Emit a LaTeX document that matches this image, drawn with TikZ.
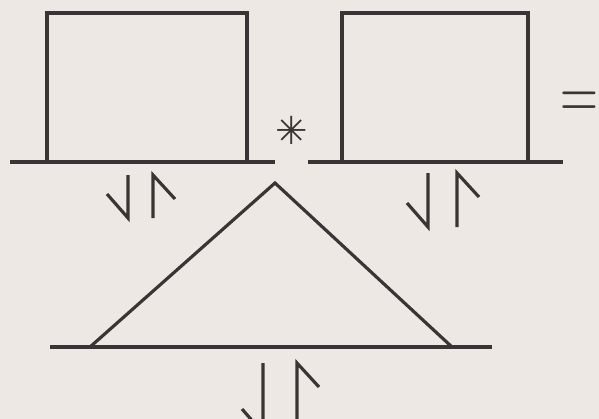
\documentclass[tikz,border=0pt]{standalone}
\usepackage{fontspec}
\newfontfamily\symfont{DejaVu Sans}
\definecolor{paper}{RGB}{237,232,228}
\definecolor{ink}{RGB}{58,52,52}
\begin{document}
\begin{tikzpicture}[x=0.02cm, y=-0.02cm, line width=1.8pt, color=ink, line cap=butt,
  pics/spinpair/.style 2 args={code={
    \draw (0,0) -- (0,#1) -- (-21,#1-24);
    \draw (#2,#1) -- (#2,0) -- (#2+22,24);
  }}]
\fill[paper] (0,0) rectangle (599,419);
\useasboundingbox (0,0) rectangle (599,419);
% left box
\draw (10,162) -- (275,162);
\draw (47,162) |- (247,13) -- (247,162);
\pic (lspin) at (128,175) {spinpair={43}{25}};
% star
\node (conv) at (292,130) {\symfont\bfseries\fontsize{22}{22}\selectfont ✳};
% right box
\draw (308,162) -- (563,162);
\draw (342,162) |- (528,13) -- (528,162);
\pic (rspin) at (428,173) {spinpair={54}{29}};
\node[anchor=base west, inner sep=0pt, xscale=0.68] (eq) at (559,119) {\fontsize{44}{44}\selectfont =};
% triangle
\draw (50,347) -- (492,347);
\draw (90,347) -- (275,183) -- (452,347);
\pic (bspin) at (263,363) {spinpair={70}{34}};
\end{tikzpicture}
\end{document}
